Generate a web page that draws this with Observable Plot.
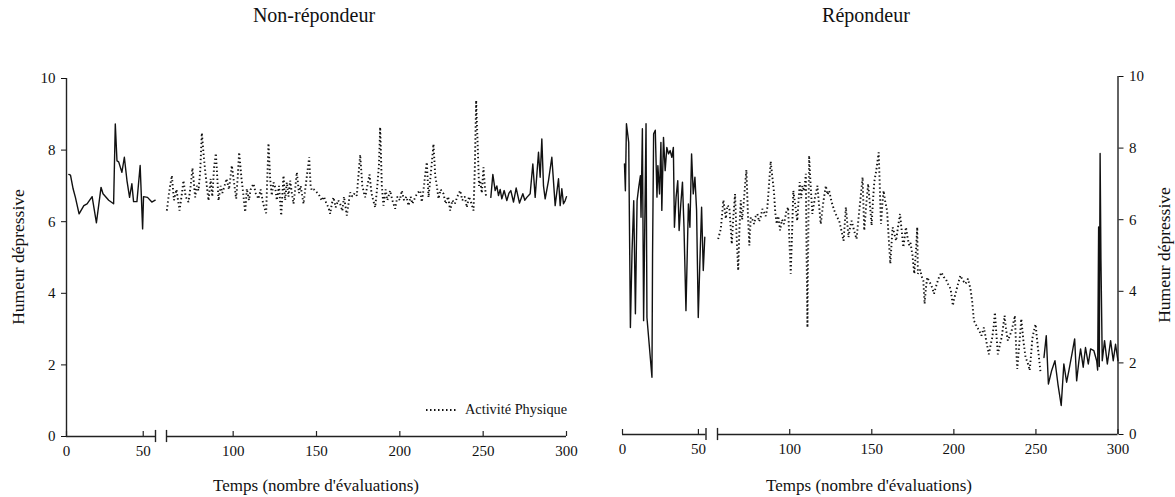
<!DOCTYPE html>
<html><head><meta charset="utf-8">
<script src="https://cdn.jsdelivr.net/npm/d3@7"></script>
<script src="https://cdn.jsdelivr.net/npm/@observablehq/plot@0.6"></script>
<style>
body{margin:0;background:#fff;font-family:"Liberation Serif","Times New Roman",serif;color:#111;}
#wrap{position:relative;width:1175px;height:497px;overflow:hidden;}
.title{position:absolute;top:4px;font-size:20px;transform:translateX(-50%);white-space:nowrap;}
.xlab{position:absolute;top:476px;font-size:17px;transform:translateX(-50%);white-space:nowrap;}
.ylab{position:absolute;font-size:17.5px;white-space:nowrap;transform:translate(-50%,-50%) rotate(-90deg);}
.panel{position:absolute;top:40px;}
#legend{position:absolute;left:425px;top:401px;font-size:14.3px;display:flex;align-items:center;}
svg text{font-family:"Liberation Serif","Times New Roman",serif;}
</style></head><body>
<div id="wrap">
  <div class="title" style="left:314px">Non-répondeur</div>
  <div class="title" style="left:866px">Répondeur</div>
  <div class="panel" id="left" style="left:0"></div>
  <div class="panel" id="right" style="left:587px"></div>
  <div class="xlab" style="left:316px">Temps (nombre d'évaluations)</div>
  <div class="xlab" style="left:869px">Temps (nombre d'évaluations)</div>
  <div class="ylab" style="left:18px;top:257px">Humeur dépressive</div>
  <div class="ylab" style="left:1164px;top:255px">Humeur dépressive</div>
  <div id="legend"><svg width="34" height="6"><line x1="1" y1="3" x2="33" y2="3" stroke="#111" stroke-width="2" stroke-dasharray="1.5,2.5"/></svg><span style="margin-left:6px">Activité Physique</span></div>
</div>
<script>
// ---- data: [time (evaluation #), depressive mood] ----
const xTicks = [0, 50, 100, 150, 200, 250, 300];
const yTicks = [0, 2, 4, 6, 8, 10];

// Non-répondeur
const nrBaseline = [[1.5,7.32],[2.6,7.3],[4.3,6.92],[5.8,6.68],[8.2,6.22],[11.3,6.45],[13.4,6.5],[16.7,6.7],[19.5,5.97],[22.5,6.96],[23.8,6.78],[27.5,6.6],[30.7,6.5],[31.8,8.73],[32.9,7.7],[34,7.67],[36.1,7.38],[37.7,7.8],[39.4,7.15],[41.1,6.68],[42.6,7.06],[43.7,6.56],[45.9,6.56],[48,7.57],[49.6,5.8],[50.2,6.7],[52.8,6.68],[55.6,6.55],[57.8,6.6]];
const nrActivite = [[60.2,6.31],[61.5,6.8],[63.2,7.29],[64.5,6.6],[66,6.9],[67.8,6.31],[69,6.7],[70.2,7.15],[71.5,6.7],[73.2,6.55],[74.5,7.0],[75.6,7.5],[77.2,6.68],[78.2,7.0],[79.2,6.87],[80.2,7.4],[81.2,8.48],[82.2,7.9],[83.2,7.43],[84.2,7.0],[85.2,6.59],[86.5,7.2],[87.5,6.7],[88.5,7.5],[89.6,7.91],[90.5,7.2],[91.2,6.59],[92.5,7.0],[93.5,6.8],[94.6,6.96],[96,7.2],[97.5,6.9],[99.2,7.57],[100.5,7.1],[101.8,6.64],[102.8,7.3],[103.6,7.94],[105,7.2],[106,6.8],[107.2,6.27],[108.2,6.92],[109.5,6.6],[110.5,6.9],[112.2,7.06],[113.5,6.8],[115.2,6.64],[116.5,6.9],[118,6.5],[119.8,6.24],[121.2,8.19],[122.2,7.2],[123.2,6.73],[124.2,7.1],[125.2,6.96],[126.2,6.6],[127.5,7.0],[128.8,6.17],[130.2,7.29],[131.2,6.6],[132.2,7.1],[133.2,6.7],[134.2,7.15],[135.2,6.8],[136.2,6.5],[137.2,6.9],[138.2,7.38],[139.5,6.8],[140.5,7.0],[142.2,6.5],[143.5,7.0],[145.6,7.8],[146.5,7.0],[147.2,6.87],[148.5,6.9],[150.2,6.82],[151.5,6.75],[153.2,6.59],[154.5,6.7],[156,6.5],[157.2,6.4],[158.2,6.22],[159.2,6.5],[160.2,6.68],[161.5,6.4],[163,6.6],[164.2,6.5],[165.5,6.3],[166.5,6.7],[167.5,6.4],[168.2,6.17],[169.2,6.5],[170.2,6.82],[171.5,6.7],[173,6.8],[174.2,6.73],[175.2,7.3],[176.2,7.87],[177.5,7.0],[178.5,6.8],[179.2,6.68],[180.5,7.0],[181.8,7.32],[183,6.8],[184,6.6],[185.2,6.4],[186.5,7.0],[187.5,7.6],[188.2,8.64],[189.2,7.0],[190.2,6.45],[191.5,6.9],[192.5,6.6],[194.2,6.87],[195.5,6.6],[197.2,6.36],[198.5,6.7],[200,6.6],[201.2,6.87],[202.5,6.6],[204,6.7],[205.2,6.45],[206.5,6.7],[207.5,6.5],[209.2,6.68],[210.5,6.8],[212.2,6.87],[213.2,6.55],[214.5,7.0],[215.2,7.3],[216.2,7.66],[217.2,6.68],[218.5,7.3],[219.5,7.8],[220.2,8.17],[221.2,7.3],[222.2,7.0],[223.2,6.64],[224.5,6.9],[226.2,6.78],[227.5,6.5],[229,6.7],[230.2,6.31],[231.5,6.6],[233,6.5],[234.5,6.7],[236.2,6.87],[237.5,6.6],[239,6.7],[240.2,6.4],[241.5,6.7],[243,6.5],[244.2,6.31],[245,7.5],[245.8,9.39],[246.8,8.0],[247.5,7.0],[248.2,7.15],[249.2,6.8],[250.2,7.52],[251,7.0],[251.8,6.68]];
const nrSuivi = [[254.6,6.68],[255.8,7.32],[257.2,6.87],[258.2,7.0],[259.2,6.73],[260.2,6.9],[261.2,6.64],[262.6,6.87],[264.2,6.59],[265.5,6.8],[266.6,6.87],[268.2,6.55],[269.8,6.94],[271.8,6.52],[273.8,6.78],[275,6.6],[276.2,6.68],[278.2,6.78],[279.8,7.61],[281.2,6.68],[283.2,7.94],[284.2,7.24],[285.2,8.31],[286.2,7.0],[287.2,6.64],[289.2,7.15],[291.2,7.8],[293.2,6.45],[295.2,7.2],[296.2,6.45],[297.2,6.92],[298.2,6.5],[299.2,6.59],[300,6.7]];

// Répondeur
const rBaseline = [[1.3,7.56],[1.9,6.81],[2.6,8.68],[4.1,8.16],[5.2,2.99],[6.3,5.14],[7.4,6.53],[8.5,3.37],[9.6,6.53],[10.7,6.91],[11.8,7.23],[12.2,6.07],[13.1,8.54],[13.9,3.18],[15.5,8.68],[16.1,3.27],[19.4,1.6],[19.8,5.05],[20.5,8.4],[21.6,8.5],[22.7,6.63],[23.3,7.51],[24.4,6.72],[25.3,8.16],[25.9,6.26],[27,8.3],[28.1,7.37],[29.2,8.02],[30.3,7.84],[31.4,7.93],[32.5,7.74],[33.5,8.02],[34.2,5.79],[35.3,6.63],[36.4,7.09],[37.3,5.7],[38.4,6.44],[39.5,7.05],[40.5,5.79],[41.8,3.46],[43.4,6.44],[44.4,5.79],[45.5,7.84],[46.6,6.72],[47.7,7.19],[48.8,6.26],[49.9,3.27],[51,4.86],[52.1,6.35],[53.2,4.58],[54.2,5.51]];
const rActivite = [[56.4,5.46],[58,5.74],[59.6,6.55],[61.1,6.03],[62,6.4],[63.2,6.35],[64.7,5.32],[65.7,6.1],[66.7,6.72],[67.6,5.6],[68.6,4.58],[69.4,5.8],[70.2,6.54],[71,6.0],[71.8,6.35],[72.7,6.9],[73.6,7.39],[74.5,6.2],[75.4,5.28],[76.3,6.07],[77.3,6.0],[78.3,5.88],[79.3,6.1],[80.3,6.16],[81.3,5.95],[82.3,6.07],[83.3,6.3],[84.3,6.21],[85.4,6.1],[86.4,6.35],[87.4,7.0],[88.4,7.63],[89.4,7.2],[90.4,6.77],[91.2,6.2],[92.1,5.88],[93.1,6.1],[94.1,5.7],[95.3,6.0],[96.5,5.88],[97.8,6.2],[99,6.35],[99.8,5.4],[100.6,4.49],[101.4,5.6],[102.2,6.81],[103.4,6.4],[104.6,5.97],[105.3,6.5],[106.1,7.05],[107,6.6],[107.7,6.95],[108.8,6.8],[109.8,7.28],[110.3,5.0],[110.8,2.99],[111.3,5.5],[111.8,7.79],[112.8,6.9],[113.8,6.16],[115.3,6.6],[116.9,6.95],[117.9,6.4],[118.9,5.88],[120.5,6.5],[122,6.95],[123,6.7],[124,6.81],[125.5,6.5],[127.1,6.26],[128.6,6.1],[130.1,5.97],[131.5,5.7],[132.8,5.41],[134.2,6.35],[135.8,5.51],[136.8,5.8],[137.7,5.97],[139.2,5.7],[140.7,5.46],[142.5,6.3],[144.4,7.19],[145.4,5.7],[146.6,6.4],[147.8,7.0],[148.9,6.4],[149.9,5.84],[150.7,6.5],[151.5,7.05],[152.8,7.4],[154.2,7.88],[155.6,5.88],[156.4,6.4],[157.2,6.81],[158.2,6.5],[159.3,6.26],[160.3,5.5],[161.3,4.77],[162,5.3],[162.7,5.79],[163.8,5.6],[164.8,5.41],[166,5.8],[167.2,6.16],[168.2,5.7],[169.2,5.23],[170,5.5],[170.8,5.79],[171.8,5.5],[172.8,5.28],[173.6,5.35],[174.8,5.0],[175.9,4.49],[177,5.2],[177.7,5.79],[178.1,4.49],[179.5,4.6],[180.5,4.4],[181.4,4.3],[182.2,3.65],[183,4.1],[183.8,4.39],[184.8,4.3],[185.8,4.21],[186.8,4.1],[187.9,3.93],[188.9,4.1],[189.9,4.25],[191,4.4],[192.5,4.53],[193.8,4.4],[195,4.35],[196.5,4.2],[198,4.07],[199.4,3.6],[200.2,3.8],[201,3.93],[202.5,4.2],[204,4.44],[205.5,4.3],[207.1,4.21],[208.6,4.35],[210.1,4.07],[211.1,3.74],[212.2,3.18],[213.2,3.1],[214.2,2.99],[215.5,2.9],[216.8,2.76],[218.3,2.99],[219.8,2.6],[221.3,2.24],[222.4,2.5],[223.4,2.71],[224.2,3.0],[225,3.41],[225.9,2.8],[226.8,2.24],[228,2.5],[229.1,2.71],[230,3.0],[230.9,3.32],[231.9,2.9],[232.9,2.62],[234,2.75],[235.2,2.9],[236.2,3.1],[237.2,3.32],[237.9,2.5],[238.6,1.83],[239.8,2.5],[241.1,3.23],[242.4,2.6],[243.7,2.15],[245,2.0],[246.2,1.79],[247,2.2],[247.8,2.67],[248.8,2.9],[249.8,3.08],[250.6,2.7],[251.4,2.34],[252.8,1.74]];
const rSuivi = [[254.9,2.15],[256.3,2.76],[257.6,1.41],[259.6,1.79],[261.6,2.06],[263.4,1.41],[265.4,0.81],[267,1.97],[268.7,1.46],[270.1,1.79],[272.1,2.29],[273.6,2.67],[274.8,1.5],[276.2,2.06],[277.2,2.39],[278.8,1.88],[280.2,2.43],[281.9,1.97],[283.3,2.39],[285.3,2.34],[287,2.06],[287.6,1.8],[288.2,5.8],[288.6,1.9],[289.1,7.85],[289.6,4.9],[290.4,2.06],[291.8,2.62],[293.5,1.97],[295.5,2.62],[297.1,2.06],[298.5,2.52],[300,2.06]];

const INK = "#111";
const AXIS = "#222";

function panel({width, xDomain, xRange, mLeft, mRight, mTop, mBottom, yAnchor, yAxisAt, axisSegs, breaks, pre, pa, post}) {
  const P = d => d[0], V = d => d[1];
  return Plot.plot({
    width, height: 457,
    marginLeft: mLeft, marginRight: mRight, marginTop: mTop, marginBottom: mBottom,
    style: {fontFamily: "'Liberation Serif','Times New Roman',serif", fontSize: "15px", color: INK, background: "white"},
    x: {type: "linear", domain: xDomain, range: xRange},
    y: {domain: [0, 10]},
    marks: [
      Plot.ruleY(axisSegs, {y: 0, x1: d => d[0], x2: d => d[1], stroke: AXIS, strokeWidth: 1.4}),
      Plot.ruleX(breaks, {x: d => d, y1: -0.17, y2: 0.17, stroke: AXIS, strokeWidth: 1.4}),
      Plot.ruleX(xTicks, {x: d => d, y1: 0, y2: 0.14, stroke: AXIS, strokeWidth: 1.2}),
      Plot.ruleX([yAxisAt], {y1: 0, y2: 10, stroke: AXIS, strokeWidth: 1.4}),
      Plot.axisY({anchor: yAnchor, ticks: yTicks, tickSize: 5, tickPadding: 6, label: null}),
      Plot.axisX({ticks: xTicks, tickSize: 0, tickPadding: 9, label: null}),
      Plot.line(pre, {x: P, y: V, stroke: INK, strokeWidth: 1.4}),
      Plot.line(pa, {x: P, y: V, stroke: INK, strokeWidth: 1.9, strokeDasharray: "1.4,2.6", strokeLinecap: "butt", strokeLinejoin: "miter"}),
      Plot.line(post, {x: P, y: V, stroke: INK, strokeWidth: 1.4})
    ]
  });
}

document.getElementById("left").append(panel({
  width: 587, xDomain: [0, 58, 60, 300], xRange: [66, 155, 166, 566],
  mLeft: 66, mRight: 21, mTop: 38, mBottom: 61,
  yAnchor: "left", yAxisAt: 0,
  axisSegs: [[0, 58], [60, 300]], breaks: [58, 60],
  pre: nrBaseline, pa: nrActivite, post: nrSuivi
}));

document.getElementById("right").append(panel({
  width: 588, xDomain: [0, 55, 56, 300], xRange: [35, 118.5, 130, 530.5],
  mLeft: 35, mRight: 57.5, mTop: 36, mBottom: 63,
  yAnchor: "right", yAxisAt: 300,
  axisSegs: [[0, 55], [56, 300]], breaks: [55, 56],
  pre: rBaseline, pa: rActivite, post: rSuivi
}));
</script>
</body></html>
